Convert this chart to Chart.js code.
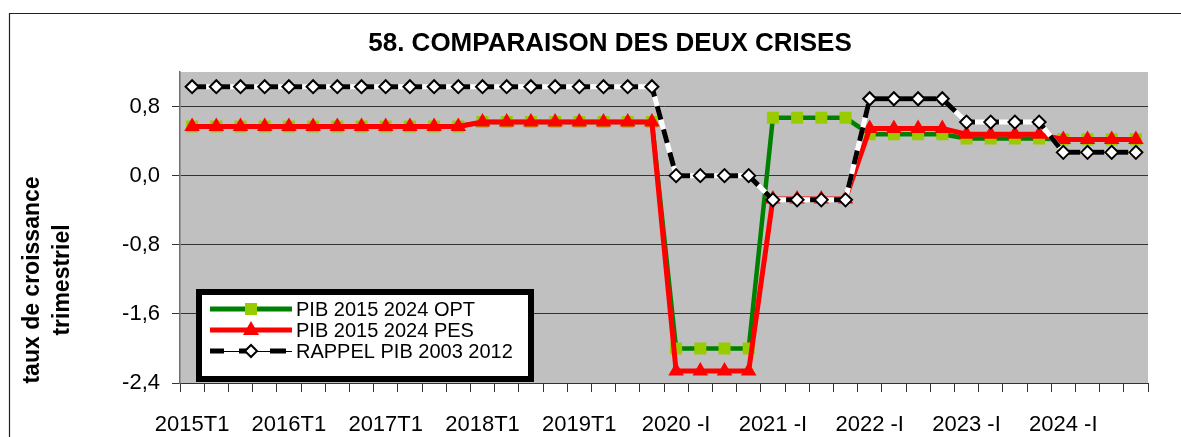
<!DOCTYPE html>
<html>
<head>
<meta charset="utf-8">
<script src="https://cdn.jsdelivr.net/npm/chart.js@4.4.0/dist/chart.umd.min.js"></script>
<style>
  html, body { margin: 0; padding: 0; background: #ffffff; }
  #wrap { width: 1181px; height: 437px; position: relative; }
</style>
</head>
<body>
<div id="wrap"><canvas id="chart" width="1181" height="437"></canvas></div>
<script>
// Quarterly categories 2015-2024
const categories = [
  '2015T1','2015T2','2015T3','2015T4',
  '2016T1','2016T2','2016T3','2016T4',
  '2017T1','2017T2','2017T3','2017T4',
  '2018T1','2018T2','2018T3','2018T4',
  '2019T1','2019T2','2019T3','2019T4',
  '2020 -I','2020 -II','2020 -III','2020 -IV',
  '2021 -I','2021 -II','2021 -III','2021 -IV',
  '2022 -I','2022 -II','2022 -III','2022 -IV',
  '2023 -I','2023 -II','2023 -III','2023 -IV',
  '2024 -I','2024 -II','2024 -III','2024 -IV'
];

// Labels printed under the x axis
const xTickLabels = ['2015T1','2016T1','2017T1','2018T1','2019T1','2020 -I','2021 -I','2022 -I','2023 -I','2024 -I'];

// Gridline values on the y axis
const yTickValues = [-2.4, -1.6, -0.8, 0.0, 0.8];

// Quarterly growth rates
const pibOpt = [
  0.57, 0.57, 0.57, 0.57, 0.57, 0.57, 0.57, 0.57, 0.57, 0.57, 0.57, 0.57,
  0.62, 0.62, 0.62, 0.62, 0.62, 0.62, 0.62, 0.62,
  -2.00, -2.00, -2.00, -2.00,
  0.67, 0.67, 0.67, 0.67,
  0.48, 0.48, 0.48, 0.48,
  0.43, 0.43, 0.43, 0.43,
  0.42, 0.42, 0.42, 0.42
];
const pibPes = [
  0.57, 0.57, 0.57, 0.57, 0.57, 0.57, 0.57, 0.57, 0.57, 0.57, 0.57, 0.57,
  0.62, 0.62, 0.62, 0.62, 0.62, 0.62, 0.62, 0.62,
  -2.26, -2.26, -2.26, -2.26,
  -0.27, -0.27, -0.27, -0.27,
  0.545, 0.545, 0.545, 0.545,
  0.48, 0.48, 0.48, 0.48,
  0.42, 0.42, 0.42, 0.42
];
const rappel = [
  1.03, 1.03, 1.03, 1.03, 1.03, 1.03, 1.03, 1.03, 1.03, 1.03,
  1.03, 1.03, 1.03, 1.03, 1.03, 1.03, 1.03, 1.03, 1.03, 1.03,
  0.00, 0.00, 0.00, 0.00,
  -0.28, -0.28, -0.28, -0.28,
  0.89, 0.89, 0.89, 0.89,
  0.62, 0.62, 0.62, 0.62,
  0.27, 0.27, 0.27, 0.27
];

const seriesNames = ['PIB 2015 2024 OPT', 'PIB 2015 2024 PES', 'RAPPEL PIB 2003 2012'];
const chartTitle = '58. COMPARAISON DES DEUX CRISES';
const yAxisTitle = ['taux de croissance', 'trimestriel'];

const FONT = "'Liberation Sans', Arial, Helvetica, sans-serif";
Chart.defaults.font.family = FONT;
Chart.defaults.color = '#000000';

const PLOT_LEFT = 180, PLOT_BOTTOM = 383;

// Frame, plot background, title and y-axis caption
const decorations = {
  id: 'decorations',
  beforeDraw(chart) {
    const ctx = chart.ctx;
    const a = chart.chartArea;
    ctx.save();
    ctx.fillStyle = '#ffffff';
    ctx.fillRect(0, 0, chart.width, chart.height);
    ctx.strokeStyle = '#222222';
    ctx.lineWidth = 1.2;
    ctx.beginPath();
    ctx.moveTo(9.5, chart.height + 2);
    ctx.lineTo(9.5, 13.5);
    ctx.lineTo(chart.width + 2, 13.5);
    ctx.stroke();
    ctx.fillStyle = '#c0c0c0';
    ctx.fillRect(a.left, a.top, a.right - a.left, a.bottom - a.top);

    ctx.fillStyle = '#000000';
    ctx.font = 'bold 26px ' + FONT;
    ctx.textAlign = 'center';
    ctx.textBaseline = 'middle';
    ctx.fillText(chartTitle, 610, 44);

    ctx.font = 'bold 23px ' + FONT;
    ctx.translate(0, 280);
    ctx.rotate(-Math.PI / 2);
    ctx.fillText(yAxisTitle[0], 0, 33);
    ctx.fillText(yAxisTitle[1], 0, 63);
    ctx.restore();
  }
};

// Legend box drawn inside the plot
const legendBox = {
  id: 'legendBox',
  afterDraw(chart) {
    const ctx = chart.ctx;
    ctx.save();
    ctx.fillStyle = '#ffffff';
    ctx.fillRect(199, 292, 332, 87);
    ctx.strokeStyle = '#000000';
    ctx.lineWidth = 6;
    ctx.strokeRect(199, 292, 332, 87);

    const x0 = 210, x1 = 292, xm = 251;
    const rows = [309, 330, 351];

    // OPT
    ctx.strokeStyle = '#008000';
    ctx.lineWidth = 5;
    ctx.beginPath(); ctx.moveTo(x0, rows[0]); ctx.lineTo(x1, rows[0]); ctx.stroke();
    ctx.fillStyle = '#99cc00';
    ctx.fillRect(xm - 6, rows[0] - 6, 12, 12);

    // PES
    ctx.strokeStyle = '#ff0000';
    ctx.lineWidth = 5;
    ctx.beginPath(); ctx.moveTo(x0, rows[1]); ctx.lineTo(x1, rows[1]); ctx.stroke();
    ctx.fillStyle = '#ff0000';
    ctx.beginPath();
    ctx.moveTo(xm, rows[1] - 9);
    ctx.lineTo(xm + 8, rows[1] + 5);
    ctx.lineTo(xm - 8, rows[1] + 5);
    ctx.closePath(); ctx.fill();

    // RAPPEL
    const r = rows[2];
    ctx.strokeStyle = '#000000';
    ctx.lineWidth = 1;
    ctx.beginPath(); ctx.moveTo(x0, r + 0.5); ctx.lineTo(x1, r + 0.5); ctx.stroke();
    ctx.fillStyle = '#000000';
    ctx.fillRect(210, r - 2.5, 14, 5);
    ctx.fillRect(239, r - 2.5, 8, 5);
    ctx.fillRect(270, r - 2.5, 16, 5);
    ctx.fillStyle = '#ffffff';
    ctx.lineWidth = 2;
    ctx.beginPath();
    ctx.moveTo(xm - 6, r); ctx.lineTo(xm, r - 6); ctx.lineTo(xm + 6, r); ctx.lineTo(xm, r + 6);
    ctx.closePath(); ctx.fill(); ctx.stroke();

    ctx.fillStyle = '#000000';
    ctx.font = '20px ' + FONT;
    ctx.textAlign = 'left';
    ctx.textBaseline = 'middle';
    seriesNames.forEach((name, i) => ctx.fillText(name, 296, rows[i] + 1));
    ctx.restore();
  }
};

new Chart(document.getElementById('chart'), {
  type: 'line',
  data: {
    labels: categories,
    datasets: [
      {
        label: seriesNames[0],
        data: pibOpt,
        borderColor: '#008000',
        borderWidth: 4.5,
        pointStyle: 'rect',
        pointRadius: 8.5,
        pointHoverRadius: 8.5,
        pointBackgroundColor: '#99cc00',
        pointBorderColor: '#99cc00',
        pointBorderWidth: 0,
        tension: 0,
        order: 4
      },
      {
        label: seriesNames[1],
        data: pibPes,
        borderColor: '#ff0000',
        borderWidth: 5,
        pointStyle: 'triangle',
        pointRadius: 9,
        pointHoverRadius: 9,
        pointBackgroundColor: '#ff0000',
        pointBorderColor: '#ff0000',
        pointBorderWidth: 0,
        tension: 0,
        order: 3
      },
      {
        // white under-stroke so the RAPPEL dashes alternate black and white
        label: seriesNames[2] + ' (fond)',
        data: rappel,
        borderColor: '#ffffff',
        borderWidth: 5,
        pointRadius: 0,
        pointHoverRadius: 0,
        tension: 0,
        order: 2
      },
      {
        label: seriesNames[2],
        data: rappel,
        borderColor: '#000000',
        borderWidth: 5,
        borderDash: [14, 10],
        borderCapStyle: 'butt',
        pointStyle: 'rectRot',
        pointRadius: 6.5,
        pointHoverRadius: 6.5,
        pointBackgroundColor: '#ffffff',
        pointBorderColor: '#000000',
        pointBorderWidth: 2,
        tension: 0,
        order: 1
      }
    ]
  },
  options: {
    responsive: false,
    animation: false,
    devicePixelRatio: 1,
    events: [],
    layout: { padding: { left: 0, top: 72, right: 33, bottom: 0 } },
    plugins: {
      legend: { display: false },
      title: { display: false },
      tooltip: { enabled: false }
    },
    scales: {
      x: {
        type: 'category',
        offset: true,
        afterFit(scale) { scale.height = 437 - PLOT_BOTTOM; },
        grid: {
          offset: true,
          drawOnChartArea: false,
          drawTicks: true,
          tickLength: 9,
          color: '#333333',
          lineWidth: 1
        },
        border: { display: true, color: '#333333', width: 1 },
        ticks: {
          autoSkip: false,
          maxRotation: 0,
          minRotation: 0,
          padding: 20,
          color: '#000000',
          font: { size: 22 },
          callback(value, index) {
            const lab = categories[index];
            return xTickLabels.includes(lab) ? lab : '';
          }
        }
      },
      y: {
        min: -2.4,
        max: 1.2,
        afterFit(scale) { scale.width = PLOT_LEFT; },
        afterBuildTicks(scale) { scale.ticks = yTickValues.map(v => ({ value: v })); },
        grid: {
          color: '#333333',
          lineWidth: 1,
          drawTicks: true,
          tickLength: 8
        },
        border: { display: true, color: '#707070', width: 1.5 },
        ticks: {
          padding: 12,
          color: '#000000',
          font: { size: 22 },
          callback(value) { return Number(value).toFixed(1).replace('.', ','); }
        }
      }
    }
  },
  plugins: [decorations, legendBox]
});
</script>
</body>
</html>
